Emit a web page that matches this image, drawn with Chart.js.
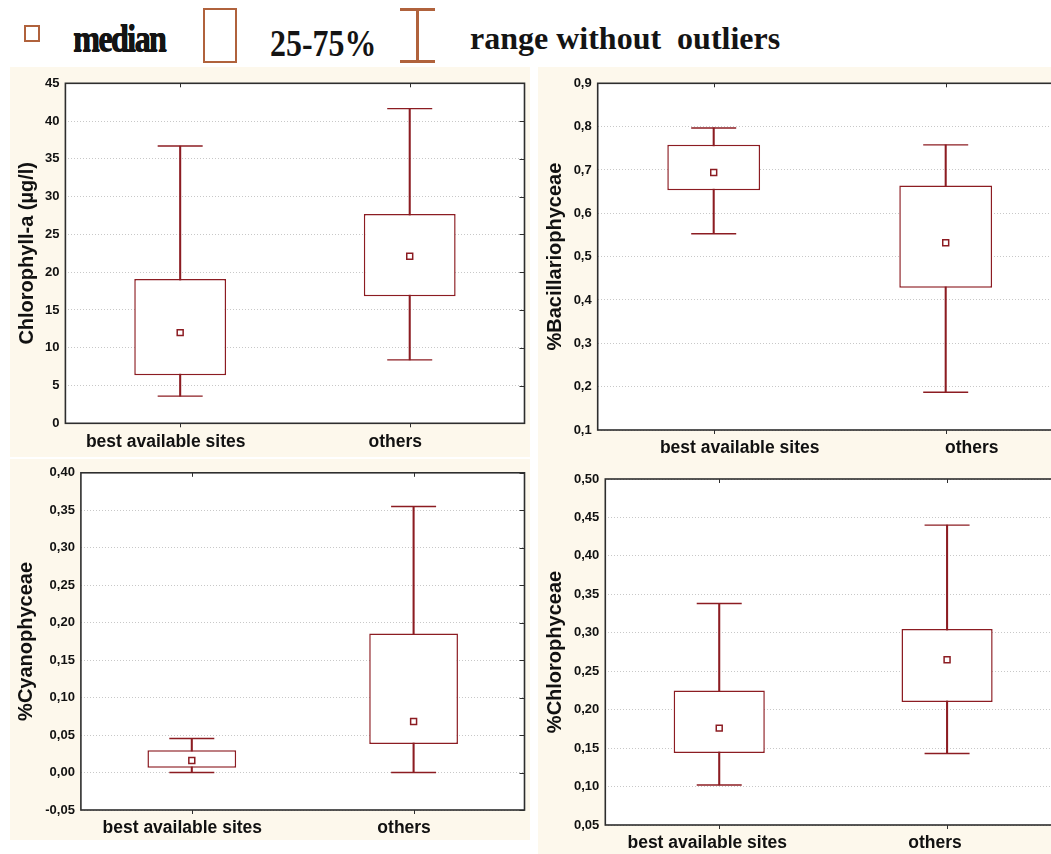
<!DOCTYPE html>
<html>
<head>
<meta charset="utf-8">
<script src="https://cdn.jsdelivr.net/npm/chart.js@4.4.0/dist/chart.umd.min.js"></script>
<style>
  body { margin: 0; width: 1051px; height: 854px; overflow: hidden; background: #fff; position: relative; }
  .panel { position: absolute; background: #fdf8ec; overflow: hidden; }
  .panel canvas { position: absolute; left: 0; top: 0; }
  .legend { position: absolute; left: 0; top: 0; width: 1051px; height: 66px; font-family: "Liberation Serif", serif; font-weight: bold; color: #141414; }
  .legend div { position: absolute; box-sizing: border-box; }
  .legend span { position: absolute; line-height: 1; white-space: pre; transform-origin: left center; }
</style>
</head>
<body>

<div class="legend">
  <div style="left:24px; top:25px; width:16px; height:17px; border:2px solid #b0623c;"></div>
  <span style="left:73px; top:19px; font-size:38px; letter-spacing:-2px; transform:scaleX(0.85); text-shadow:0.6px 0 0 #141414, 0 0.6px 0 #141414;">median</span>
  <div style="left:203px; top:8px; width:34px; height:55px; border:2.5px solid #b0623c;"></div>
  <span style="left:270px; top:24px; font-size:38px; transform:scaleX(0.84);">25-75%</span>
  <div style="left:416px; top:9px; width:2.5px; height:52px; background:#b0623c;"></div>
  <div style="left:400px; top:8px; width:35px; height:2.5px; background:#b0623c;"></div>
  <div style="left:400px; top:60px; width:35px; height:2.5px; background:#b0623c;"></div>
  <span style="left:470px; top:22px; font-size:32px;">range without  outliers</span>
</div>

<div class="panel" style="left:10px; top:67px; width:520px; height:390px;"><canvas id="chl" width="520" height="390"></canvas></div>
<div class="panel" style="left:538px; top:67px; width:513px; height:398px;"><canvas id="bac" width="530" height="398"></canvas></div>
<div class="panel" style="left:10px; top:459px; width:520px; height:381px;"><canvas id="cya" width="520" height="381"></canvas></div>
<div class="panel" style="left:538px; top:465px; width:513px; height:389px;"><canvas id="chlo" width="530" height="389"></canvas></div>

<script>
const categories = ['best available sites', 'others'];

// Chlorophyll-a (µg/l)
const chlMin = [3.6, 8.4];
const chlQ1 = [6.35, 16.8];
const chlMedian = [12.0, 22.1];
const chlQ3 = [19.1, 27.7];
const chlMax = [36.7, 41.65];
const chlTicks = [0, 5, 10, 15, 20, 25, 30, 35, 40, 45];

// %Bacillariophyceae
const bacMin = [0.553, 0.187];
const bacQ1 = [0.653, 0.428];
const bacMedian = [0.694, 0.532];
const bacQ3 = [0.758, 0.664];
const bacMax = [0.797, 0.758];
const bacTicks = [0.1, 0.2, 0.3, 0.4, 0.5, 0.6, 0.7, 0.8, 0.9];

// %Cyanophyceae
const cyaMin = [0.0, 0.0];
const cyaQ1 = [0.0064, 0.038];
const cyaMedian = [0.016, 0.068];
const cyaQ3 = [0.0297, 0.1855];
const cyaMax = [0.0455, 0.355];
const cyaTicks = [-0.05, 0, 0.05, 0.1, 0.15, 0.2, 0.25, 0.3, 0.35, 0.4];

// %Chlorophyceae
const chloMin = [0.102, 0.143];
const chloQ1 = [0.1436, 0.21];
const chloMedian = [0.176, 0.265];
const chloQ3 = [0.225, 0.305];
const chloMax = [0.338, 0.44];
const chloTicks = [0.05, 0.1, 0.15, 0.2, 0.25, 0.3, 0.35, 0.4, 0.45, 0.5];

const red = '#8c1c22';
const sans = '"Liberation Sans", Arial, sans-serif';

// white plot area, frame round it and the short ticks on the right/top/bottom edges
const framePlugin = {
  id: 'frame',
  beforeDraw(chart) {
    const { ctx, chartArea: a } = chart;
    ctx.save();
    ctx.fillStyle = '#fff';
    ctx.fillRect(a.left, a.top, a.right - a.left, a.bottom - a.top);
    ctx.restore();
  },
  afterDraw(chart) {
    const { ctx, chartArea: a, scales: { x, y } } = chart;
    ctx.save();
    ctx.strokeStyle = '#2e2e2e';
    ctx.lineWidth = 1.6;
    ctx.strokeRect(a.left, a.top, a.right - a.left, a.bottom - a.top);
    ctx.lineWidth = 1;
    ctx.beginPath();
    y.ticks.forEach(t => {
      const py = Math.round(y.getPixelForValue(t.value)) + 0.5;
      ctx.moveTo(a.right - 5, py);
      ctx.lineTo(a.right, py);
    });
    x.ticks.forEach((t, i) => {
      const px = Math.round(x.getPixelForTick(i)) + 0.5;
      ctx.moveTo(px, a.top);
      ctx.lineTo(px, a.top + 4);
      ctx.moveTo(px, a.bottom);
      ctx.lineTo(px, a.bottom + 4);
    });
    ctx.stroke();
    ctx.restore();
  }
};

function boxPlot(id, s) {
  const ranges = s.min.map((v, i) => [v, s.max[i]]);
  const boxes = s.q1.map((v, i) => [v, s.q3[i]]);

  return new Chart(document.getElementById(id), {
    type: 'bar',
    data: {
      labels: categories,
      datasets: [
        {
          type: 'line', data: s.median, showLine: false, order: 0,
          pointStyle: 'rect', pointRadius: 4.2, pointBorderWidth: 1.5,
          pointBorderColor: red, pointBackgroundColor: '#fff'
        },
        {
          type: 'line', data: s.max, showLine: false, order: 1,
          pointStyle: 'line', pointRadius: 22.5, pointBorderWidth: 1.4, pointBorderColor: red
        },
        {
          type: 'line', data: s.min, showLine: false, order: 1,
          pointStyle: 'line', pointRadius: 22.5, pointBorderWidth: 1.4, pointBorderColor: red
        },
        {
          data: boxes, grouped: false, order: 2,
          backgroundColor: '#fff', borderColor: red, borderWidth: 1.5, borderSkipped: false,
          barPercentage: 0.4, categoryPercentage: 1
        },
        {
          data: ranges, grouped: false, order: 3,
          backgroundColor: red, borderWidth: 0, barThickness: 1.4
        }
      ]
    },
    options: {
      responsive: false,
      animation: false,
      events: [],
      layout: { autoPadding: false, padding: { left: 0, top: s.top, right: s.right, bottom: 0 } },
      plugins: { legend: { display: false }, tooltip: { enabled: false } },
      scales: {
        x: {
          grid: { display: false },
          border: { display: false },
          ticks: {
            color: '#111', padding: 0, labelOffset: s.labelShift,
            font: { family: sans, size: 17.5, weight: 'bold' }
          },
          afterFit(scale) { scale.height = s.xHeight; }
        },
        y: {
          min: s.ticks[0],
          max: s.ticks[s.ticks.length - 1],
          afterBuildTicks(scale) { scale.ticks = s.ticks.map(v => ({ value: v })); },
          grid: { color: '#c8c8c8', lineWidth: 1, drawTicks: false },
          border: { display: false, dash: [1, 2] },
          ticks: {
            color: '#111', padding: 6,
            font: { family: sans, size: 13, weight: 'bold' },
            callback: v => v.toFixed(s.digits).replace('.', ',')
          },
          title: {
            display: true, text: s.title, color: '#111',
            padding: { top: s.titlePad, bottom: 0 },
            font: { family: sans, size: 20, weight: 'bold' }
          },
          afterFit(scale) { scale.width = s.yWidth; }
        }
      }
    },
    plugins: [framePlugin]
  });
}

boxPlot('chl', {
  min: chlMin, q1: chlQ1, median: chlMedian, q3: chlQ3, max: chlMax, ticks: chlTicks,
  title: 'Chlorophyll-a (µg/l)', digits: 0,
  top: 16.3, right: 5.5, yWidth: 55.4, xHeight: 33.7, titlePad: 5.5, labelShift: -14.5
});

boxPlot('bac', {
  min: bacMin, q1: bacQ1, median: bacMedian, q3: bacQ3, max: bacMax, ticks: bacTicks,
  title: '%Bacillariophyceae', digits: 1,
  top: 16.3, right: 6.3, yWidth: 59.7, xHeight: 35, titlePad: 5, labelShift: 26
});

boxPlot('cya', {
  min: cyaMin, q1: cyaQ1, median: cyaMedian, q3: cyaQ3, max: cyaMax, ticks: cyaTicks,
  title: '%Cyanophyceae', digits: 2,
  top: 10.3, right: 5.5, yWidth: 70.9, xHeight: 30, titlePad: 4.7, labelShift: -9.5
});

boxPlot('chlo', {
  min: chloMin, q1: chloQ1, median: chloMedian, q3: chloQ3, max: chloMax, ticks: chloTicks,
  title: '%Chlorophyceae', digits: 2,
  top: 14, right: 7, yWidth: 67.3, xHeight: 29, titlePad: 5.7, labelShift: -12
});
</script>
</body>
</html>
